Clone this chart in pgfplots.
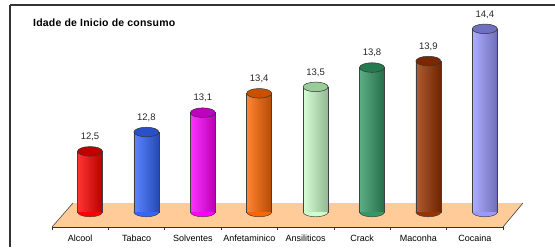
\documentclass[border=0pt]{standalone}
\usepackage{pgfplots}
\pgfplotsset{compat=1.18}
\usepackage{fontspec}
\setmainfont{Liberation Sans}
\definecolor{floorcol}{HTML}{FFCC99}
\definecolor{cA}{HTML}{FF0000}\definecolor{tA}{HTML}{C00000}
\definecolor{cB}{HTML}{3366FF}\definecolor{tB}{HTML}{2A50C8}
\definecolor{cC}{HTML}{FF00FF}\definecolor{tC}{HTML}{C000C0}
\definecolor{cD}{HTML}{FF6600}\definecolor{tD}{HTML}{C85000}
\definecolor{cE}{HTML}{CCFFCC}\definecolor{tE}{HTML}{99CC99}
\definecolor{cF}{HTML}{339966}\definecolor{tF}{HTML}{267A50}
\definecolor{cG}{HTML}{993300}\definecolor{tG}{HTML}{7A2800}
\definecolor{cH}{HTML}{9999FF}\definecolor{tH}{HTML}{7070C0}
\pgfdeclareplotmark{cyl}{%
  \pgfpathellipse{\pgfpointorigin}{\pgfqpoint{12.5pt}{0pt}}{\pgfqpoint{0pt}{4.8pt}}%
  \pgfusepathqfillstroke}
\pgfdeclareplotmark{cylb}{%
  \pgfpathmoveto{\pgfqpoint{-12.5pt}{0pt}}%
  \pgfpatharc{180}{360}{12.5pt and 4.8pt}%
  \pgfusepathqfillstroke}
\pgfplotsset{
  cylbot/.style={only marks, mark=cylb, mark options={fill=#1, draw=black!75, line width=0.5pt}},
  cylbody/.style n args={2}{ybar, bar width=25pt, bar shift=0pt, draw=black!75, line width=0.5pt,
     left color=#1!80!white, middle color=#1, right color=#1!72!black,
     mark=cyl, mark options={fill=#2, draw=black!80, line width=0.5pt},
     nodes near coords, nodes near coords align={above},
     every node near coord/.append style={font=\fontsize{9.5}{11}\selectfont, color=black!85, yshift=7pt}},
}
\begin{document}
\begin{tikzpicture}
\useasboundingbox (0,0) rectangle (555pt,247pt);
% frame + floor (pixel coordinates)
\begin{axis}[
  at={(10pt,0pt)}, anchor=south west, scale only axis,
  width=545pt, height=242pt,
  xmin=10, xmax=555, ymin=-247, ymax=-5,
  axis x line*=top, axis y line*=left,
  axis line style={-, black!80, line width=1.2pt},
  xtick=\empty, ytick=\empty, clip=false]
\addplot[fill=floorcol, draw=none] coordinates {(52,-227) (503,-227) (523,-203) (73,-203)} -- cycle;
\addplot[black!75, line width=0.6pt] coordinates {(52,-227) (73,-203)};
\addplot[black!75, line width=0.6pt] coordinates {(503,-227) (523,-203)};
\node[anchor=base west, font=\bfseries\fontsize{10.5}{12}\selectfont\addfontfeature{LetterSpace=2}, inner sep=0pt] at (axis cs:33,-27) {Idade de Inicio de consumo};
\end{axis}
% x axis at the front edge of the floor
\begin{axis}[
  at={(52pt,20pt)}, anchor=south west, scale only axis,
  width=451pt, height=10pt,
  xmin=-0.5, xmax=7.5, ymin=0, ymax=1,
  axis x line=bottom, axis y line=none,
  axis line style={-, black!80, line width=0.7pt},
  xtick={-0.5,0.5,...,7.5}, x tick label as interval,
  xticklabels={Alcool,Tabaco,Solventes,Anfetaminico,Ansiliticos,Crack,Maconha,Cocaina},
  xtick align=outside, major tick length=3pt,
  tick style={black!80, line width=0.6pt},
  xticklabel style={font=\fontsize{9}{10}\selectfont, yshift=-1pt}]
\end{axis}
% cylinders
\begin{axis}[
  at={(61.8pt,35pt)}, anchor=south west, scale only axis,
  width=451.2pt, height=210.9pt,
  xmin=-0.5, xmax=7.5, ymin=11.56, ymax=14.83,
  hide axis, clip=true,
  /pgf/number format/assume math mode=true,
  /pgf/number format/.cd, fixed, fixed zerofill, precision=1, use comma]
\addplot[cylbot=cA] coordinates {(0,11.56)};
\addplot[cylbody={cA}{tA}] coordinates {(0,12.5)};
\addplot[cylbot=cB] coordinates {(1,11.56)};
\addplot[cylbody={cB}{tB}] coordinates {(1,12.8)};
\addplot[cylbot=cC] coordinates {(2,11.56)};
\addplot[cylbody={cC}{tC}] coordinates {(2,13.1)};
\addplot[cylbot=cD] coordinates {(3,11.56)};
\addplot[cylbody={cD}{tD}] coordinates {(3,13.4)};
\addplot[cylbot=cE] coordinates {(4,11.56)};
\addplot[cylbody={cE}{tE}] coordinates {(4,13.5)};
\addplot[cylbot=cF] coordinates {(5,11.56)};
\addplot[cylbody={cF}{tF}] coordinates {(5,13.8)};
\addplot[cylbot=cG] coordinates {(6,11.56)};
\addplot[cylbody={cG}{tG}] coordinates {(6,13.9)};
\addplot[cylbot=cH] coordinates {(7,11.56)};
\addplot[cylbody={cH}{tH}] coordinates {(7,14.4)};
\end{axis}
\end{tikzpicture}
\end{document}
